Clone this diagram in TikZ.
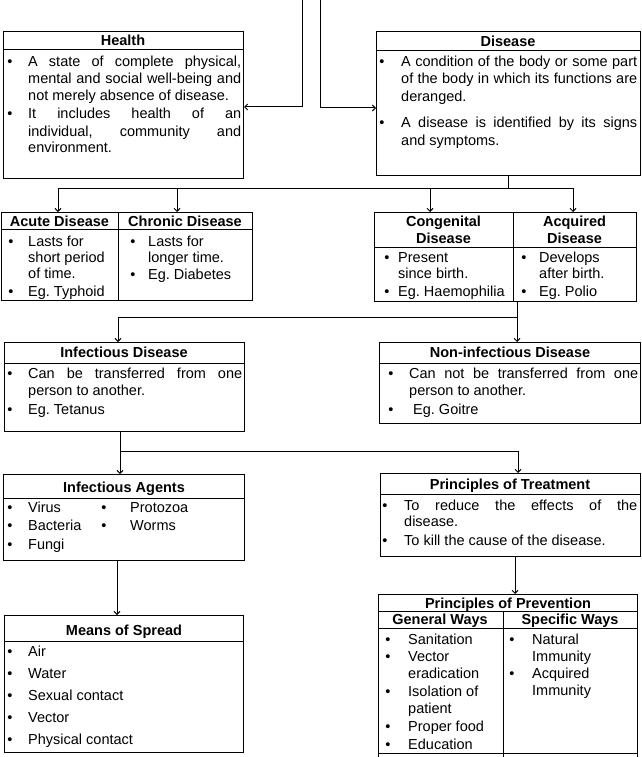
\documentclass[tikz,border=0pt]{standalone}
\usepackage{fontspec}
\setmainfont{Liberation Sans}
\usetikzlibrary{arrows.meta}
\frenchspacing
\newcommand\fs{\fontsize{14.5}{17}\selectfont\frenchspacing}
\newcommand\mytl[4]{\node[txt] (#1) at (#2,#3) {#4};}
\newcommand\myjl[5]{\node[txt] (#1) at (#2,#3) {\makebox[#4pt][s]{#5}};}
\newcommand\mybu[3]{\node[bul] (#1) at (#2,#3) {\textbullet};}
\newcommand\myhd[4]{\node[hd] (#1) at (#2,#3) {#4};}
\tikzset{
  box/.style={draw, line width=1pt, inner sep=0pt, anchor=north west},
  txt/.style={anchor=base west, inner sep=0pt, font=\fs},
  bul/.style={anchor=base, inner sep=0pt, font=\fs},
  hd/.style={anchor=base, inner sep=0pt, font=\fs\bfseries},
  conn/.style={line width=1pt},
  arr/.style={line width=1pt, -{Straight Barb[length=3pt,width=6pt]}},
}
\begin{document}
\begin{tikzpicture}[x=1pt,y=-1pt]
\useasboundingbox (0,0) rectangle (641,757);

% ---------- Health ----------
\node[box, minimum width=240pt, minimum height=147pt] (health) at (3,31) {};
\draw[conn] (3,50) -- (243,50);
\myhd{healthT}{123}{46}{Health}
\mybu{hb1}{10}{67}\myjl{h1}{28}{67}{213}{A state of complete physical,}
\myjl{h2}{28}{84}{213}{mental and social well-being and}
\mytl{h3}{28}{101}{not merely absence of disease.}
\mybu{hb2}{10}{118}\myjl{h4}{28}{118}{213}{It includes health of an}
\myjl{h5}{28}{136}{213}{individual, community and}
\mytl{h6}{28}{153}{environment.}

% ---------- Disease ----------
\node[box, minimum width=264pt, minimum height=144pt] (disease) at (376,31) {};
\draw[conn] (376,51) -- (640,51);
\myhd{diseaseT}{508}{47}{Disease}
\mybu{db1}{382}{67}\myjl{d1}{401}{67}{236}{A condition of the body or some part}
\myjl{d2}{401}{84}{236}{of the body in which its functions are}
\mytl{d3}{401}{102}{deranged.}
\mybu{db2}{382}{128}\myjl{d4}{401}{128}{236}{A disease is identified by its signs}
\mytl{d5}{401}{145}{and symptoms.}

% top connectors
\coordinate (in1) at (302,0);
\coordinate (in2) at (320,0);
\coordinate (j1) at (302,107);
\coordinate (j2) at (320,108);
\draw[arr] (in1) -- (j1) -- (j1 -| health.east);
\draw[arr] (in2) -- (j2) -- (j2 -| disease.west);

% ---------- Acute / Chronic ----------
\node[box, minimum width=117pt, minimum height=88pt] (acute) at (1,212) {};
\node[box, minimum width=134pt, minimum height=88pt] (chronic) at (118,212) {};
\draw[conn] (1,229.5) -- (252,229.5);
\myhd{acuteT}{59.5}{226}{Acute Disease}
\myhd{chronicT}{185}{226}{Chronic Disease}
\mybu{ab1}{11}{246}\mytl{a1}{28}{246}{Lasts for}
\mytl{a2}{28}{262}{short period}
\mytl{a3}{28}{278}{of time.}
\mybu{ab2}{11}{296}\mytl{a4}{28}{296}{Eg. Typhoid}
\mybu{cb1}{133}{246}\mytl{c1}{148}{246}{Lasts for}
\mytl{c2}{148}{262}{longer time.}
\mybu{cb2}{133}{279}\mytl{c3}{148}{279}{Eg. Diabetes}

% ---------- Congenital / Acquired ----------
\node[box, minimum width=139pt, minimum height=89pt] (cong) at (374,212) {};
\node[box, minimum width=123pt, minimum height=89pt] (acq) at (513,212) {};
\draw[conn] (374,247) -- (636,247);
\myhd{congT1}{443.5}{226}{Congenital}
\myhd{congT2}{443.5}{243}{Disease}
\myhd{acqT1}{574.5}{226}{Acquired}
\myhd{acqT2}{574.5}{243}{Disease}
\mybu{gb1}{387}{262}\mytl{g1}{398}{262}{Present}
\mytl{g2}{398}{278}{since birth.}
\mybu{gb2}{387}{296}\mytl{g3}{398}{296}{Eg. Haemophilia}
\mybu{qb1}{524}{262}\mytl{q1}{539}{262}{Develops}
\mytl{q2}{539}{278}{after birth.}
\mybu{qb2}{524}{296}\mytl{q3}{539}{296}{Eg. Polio}

% disease -> four types
\coordinate (b1) at (58,188);
\coordinate (b2) at (177,188);
\coordinate (b3) at (430,188);
\coordinate (b4) at (573,188);
\draw[conn] (disease.south) -- (disease.south |- b1);
\draw[conn] (b1) -- (b4);
\draw[arr] (b1) -- (b1 |- acute.north);
\draw[arr] (b2) -- (b2 |- chronic.north);
\draw[arr] (b3) -- (b3 |- cong.north);
\draw[arr] (b4) -- (b4 |- acq.north);

% ---------- Infectious ----------
\node[box, minimum width=240pt, minimum height=89pt] (infect) at (4,342) {};
\draw[conn] (4,363) -- (244,363);
\myhd{infectT}{124}{357}{Infectious Disease}
\mybu{ib1}{10}{378}\myjl{i1}{28}{378}{214}{Can be transferred from one}
\mytl{i2}{28}{395}{person to another.}
\mybu{ib2}{10}{414}\mytl{i3}{28}{414}{Eg. Tetanus}

% ---------- Non-infectious ----------
\node[box, minimum width=261pt, minimum height=81pt] (noninf) at (379,342) {};
\draw[conn] (379,363) -- (640,363);
\myhd{noninfT}{510}{357}{Non-infectious Disease}
\mybu{nb1}{391}{378}\myjl{n1}{409}{378}{229}{Can not be transferred from one}
\mytl{n2}{409}{395}{person to another.}
\mybu{nb2}{391}{414}\mytl{n3}{413}{414}{Eg. Goitre}

% acquired -> infectious / non-infectious
\coordinate (c1) at (118,317);
\coordinate (c2) at (517,317);
\draw[arr] (c2 |- acq.south) -- (c2 |- noninf.north);
\draw[arr] (c2) -- (c1) -- (c1 |- infect.north);

% ---------- Infectious Agents ----------
\node[box, minimum width=241pt, minimum height=86pt] (agents) at (3,474) {};
\draw[conn] (3,498) -- (244,498);
\myhd{agentsT}{124}{492}{Infectious Agents}
\mybu{gab1}{10}{512}\mytl{ga1}{28}{512}{Virus}
\mybu{gab2}{10}{530}\mytl{ga2}{28}{530}{Bacteria}
\mybu{gab3}{10}{549}\mytl{ga3}{28}{549}{Fungi}
\mybu{gab4}{104}{512}\mytl{ga4}{130}{512}{Protozoa}
\mybu{gab5}{104}{530}\mytl{ga5}{130}{530}{Worms}

% ---------- Principles of Treatment ----------
\node[box, minimum width=260pt, minimum height=83pt] (treat) at (380,473) {};
\draw[conn] (380,494) -- (640,494);
\myhd{treatT}{510}{489}{Principles of Treatment}
\mybu{tb1}{385}{510}\myjl{t1}{404}{510}{233}{To reduce the effects of the}
\mytl{t2}{404}{526}{disease.}
\mybu{tb2}{385}{545}\mytl{t3}{404}{545}{To kill the cause of the disease.}

% infectious -> agents / treatment
\coordinate (e1) at (120,451);
\coordinate (e2) at (518,451);
\draw[arr] (e1 |- infect.south) -- (e1 |- agents.north);
\draw[arr] (e1) -- (e2) -- (e2 |- treat.north);

% ---------- Means of Spread ----------
\node[box, minimum width=239pt, minimum height=137pt] (spread) at (4,615) {};
\draw[conn] (4,641) -- (243,641);
\myhd{spreadT}{124}{635}{Means of Spread}
\mybu{sb1}{10}{656}\mytl{s1}{28}{656}{Air}
\mybu{sb2}{10}{678}\mytl{s2}{28}{678}{Water}
\mybu{sb3}{10}{700}\mytl{s3}{28}{700}{Sexual contact}
\mybu{sb4}{10}{722}\mytl{s4}{28}{722}{Vector}
\mybu{sb5}{10}{744}\mytl{s5}{28}{744}{Physical contact}

\coordinate (f1) at (117,0);
\draw[arr] (agents.south -| f1) -- (spread.north -| f1);

% ---------- Principles of Prevention ----------
\node[box, minimum width=259pt, minimum height=159pt] (prev) at (378,594) {};
\draw[conn] (378,753) -- (378,757) (637,753) -- (637,757) (503,753) -- (503,757);
\draw[conn] (378,611) -- (637,611);
\draw[conn] (378,628) -- (637,628);
\draw[conn] (503,611) -- (503,753);
\myhd{prevT}{508}{608}{Principles of Prevention}
\myhd{genT}{440}{624}{General Ways}
\myhd{specT}{570}{624}{Specific Ways}
\mybu{pb1}{388}{644}\mytl{p1}{408}{644}{Sanitation}
\mybu{pb2}{388}{661}\mytl{p2}{408}{661}{Vector}
\mytl{p3}{408}{678}{eradication}
\mybu{pb3}{388}{696}\mytl{p4}{408}{696}{Isolation of}
\mytl{p5}{408}{713}{patient}
\mybu{pb4}{388}{731}\mytl{p6}{408}{731}{Proper food}
\mybu{pb5}{388}{749}\mytl{p7}{408}{749}{Education}
\mybu{rb1}{512}{644}\mytl{r1}{532}{644}{Natural}
\mytl{r2}{532}{661}{Immunity}
\mybu{rb2}{512}{678}\mytl{r3}{532}{678}{Acquired}
\mytl{r4}{532}{695}{Immunity}

\coordinate (k1) at (515,0);
\draw[arr] (treat.south -| k1) -- (prev.north -| k1);
\end{tikzpicture}
\end{document}
